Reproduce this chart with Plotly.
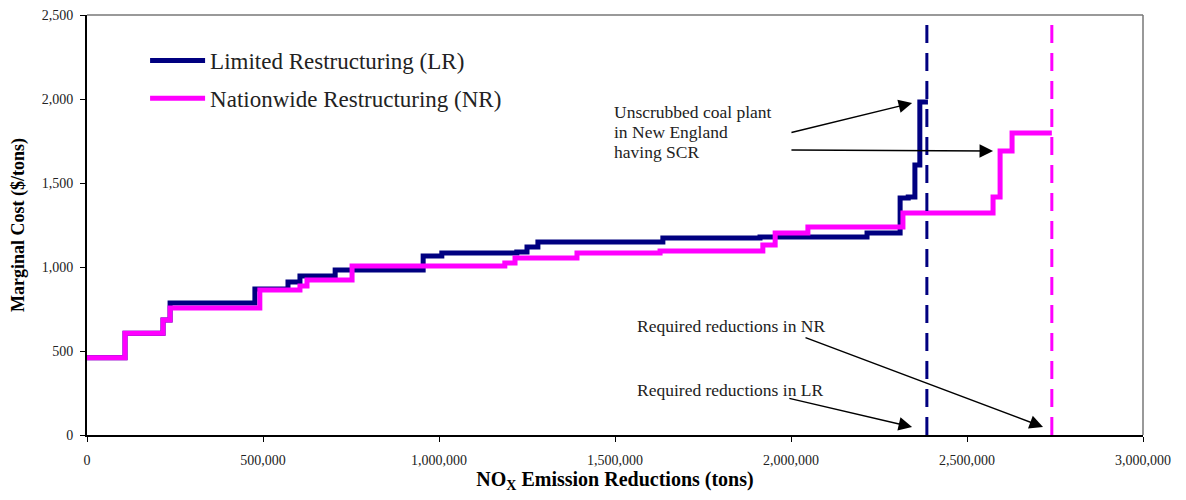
import plotly.graph_objects as go

# ---- data ----
lr_x = [0, 108000, 216000, 236000, 477000, 571000, 605000, 705000, 955000, 1008000,
        1221000, 1250000, 1281000, 1636000, 1912000, 2216000, 2310000, 2333000,
        2352000, 2366000, 2389000]
lr_y = [460, 605, 685, 785, 869, 911, 946, 982, 1065, 1083,
        1089, 1119, 1149, 1173, 1179, 1202, 1411, 1417,
        1607, 1982, 1982]

nr_x = [0, 108000, 216000, 236000, 491000, 605000, 625000, 753000, 1187000, 1216000,
        1392000, 1628000, 1920000, 1955000, 2048000, 2318000, 2574000, 2594000,
        2628000, 2741000]
nr_y = [460, 605, 685, 756, 863, 887, 922, 1006, 1024, 1054,
        1083, 1095, 1131, 1202, 1238, 1321, 1417, 1690,
        1798, 1798]

lr_required = 2386000
nr_required = 2741000
required_y = [0, 2470]

x_ticks = [0, 500000, 1000000, 1500000, 2000000, 2500000, 3000000]
x_tick_labels = ["0", "500,000", "1,000,000", "1,500,000", "2,000,000", "2,500,000", "3,000,000"]
y_ticks = [0, 500, 1000, 1500, 2000, 2500]
y_tick_labels = ["0", "500", "1,000", "1,500", "2,000", "2,500"]

NAVY = "#000080"
MAGENTA = "#FF00FF"
FONT = "Liberation Serif"

fig = go.Figure()
fig.add_trace(go.Scatter(x=lr_x, y=lr_y, mode="lines", line=dict(color=NAVY, width=5, shape="hv"),
                         name="Limited Restructuring (LR)", legendgroup="lr"))
fig.add_trace(go.Scatter(x=nr_x, y=nr_y, mode="lines", line=dict(color=MAGENTA, width=5, shape="hv"),
                         name="Nationwide Restructuring (NR)", legendgroup="nr"))
fig.add_trace(go.Scatter(x=[lr_required, lr_required], y=required_y, mode="lines",
                         line=dict(color=NAVY, width=3, dash="18px,10px"), showlegend=False))
fig.add_trace(go.Scatter(x=[nr_required, nr_required], y=required_y, mode="lines",
                         line=dict(color=MAGENTA, width=3, dash="18px,10px"), showlegend=False))

ann_font = dict(family=FONT, size=17.5, color="#222")
annotations = []
for txt, yv in [("Unscrubbed coal plant", 1923), ("in New England", 1804), ("having SCR", 1685)]:
    annotations.append(dict(x=1491000, y=yv, text=txt, showarrow=False, xanchor="left",
                            yanchor="middle", font=ann_font))
annotations.append(dict(x=1557000, y=649, text="Required reductions in NR", showarrow=False,
                        xanchor="left", yanchor="middle", font=ann_font))
annotations.append(dict(x=1557000, y=268, text="Required reductions in LR", showarrow=False,
                        xanchor="left", yanchor="middle", font=ann_font))
for (tx, ty, hx, hy) in [(1997000, 1798, 2344000, 1976),
                         (1997000, 1696, 2574000, 1690),
                         (2037000, 583, 2716000, 48),
                         (1991000, 220, 2344000, 48)]:
    annotations.append(dict(x=hx, y=hy, ax=tx, ay=ty, axref="x", ayref="y", text="",
                            showarrow=True, arrowhead=2, arrowsize=1.8, arrowwidth=1.5,
                            arrowcolor="black", standoff=0))

# page body has an 8px margin: the figure is sized/offset to compensate
fig.update_layout(
    width=1178, height=492,
    margin=dict(l=79, r=43, t=7, b=65, autoexpand=False),
    paper_bgcolor="white", plot_bgcolor="white",
    font=dict(family=FONT, color="#222"),
    showlegend=True,
    legend=dict(x=0.055, y=0.943, xanchor="left", yanchor="top", bgcolor="rgba(0,0,0,0)",
                font=dict(family=FONT, size=23, color="#222"), traceorder="grouped",
                tracegroupgap=5, itemwidth=55),
    annotations=annotations,
    shapes=[
        dict(type="line", xref="paper", yref="paper", x0=0, x1=1, y0=1, y1=1,
             line=dict(color="#777", width=1.5)),
        dict(type="line", xref="paper", yref="paper", x0=1, x1=1, y0=0, y1=1,
             line=dict(color="#777", width=1.5)),
    ],
)
fig.update_xaxes(range=[0, 3000000], tickvals=x_ticks, ticktext=x_tick_labels, automargin=False,
                 showgrid=False, zeroline=False, showline=True, linecolor="black", linewidth=2,
                 ticks="outside", ticklen=5, tickcolor="black", tickwidth=1,
                 tickfont=dict(family=FONT, size=14, color="#222"), ticklabelstandoff=6,
                 ticklabeloverflow="allow",
                 title=dict(text="<b>NO<sub>X</sub> Emission Reductions (tons)</b>",
                            font=dict(family=FONT, size=20, color="black"), standoff=5))
fig.update_yaxes(range=[0, 2500], tickvals=y_ticks, ticktext=y_tick_labels, automargin=False,
                 showgrid=False, zeroline=False, showline=True, linecolor="black", linewidth=2,
                 ticks="outside", ticklen=5, tickcolor="black", tickwidth=1,
                 tickfont=dict(family=FONT, size=14, color="#222"), ticklabelstandoff=4,
                 ticklabeloverflow="allow",
                 title=dict(text="<b>Marginal Cost ($/tons)</b>",
                            font=dict(family=FONT, size=18, color="black"), standoff=15))

fig.write_html("out.html")
